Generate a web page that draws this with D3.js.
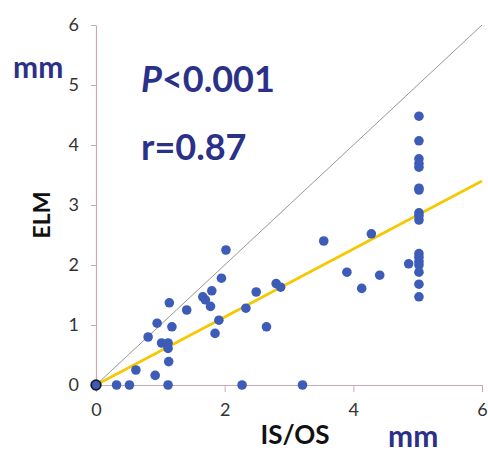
<!DOCTYPE html>
<html>
<head>
<meta charset="utf-8">
<script src="https://cdn.jsdelivr.net/npm/d3@7"></script>
<style>
  html, body { margin: 0; padding: 0; background: #fff; }
  svg { display: block; }
</style>
</head>
<body>
<svg id="chart" width="488" height="452"></svg>
<script>
// ---- data ----
const xTicks = [0, 2, 4, 6];
const yTicks = [0, 1, 2, 3, 4, 5, 6];
const originPoint = [[0, 0]];
const isosValues = [
  0.32, 0.52, 1.12, 2.27, 3.21,
  0.62, 0.92, 0.81, 0.95, 1.02, 1.12, 1.12, 1.13, 1.14, 1.18, 1.41, 1.66, 1.70,
  1.78, 1.80, 1.85, 1.91, 1.95, 2.02, 2.33, 2.49, 2.65, 2.80, 2.87, 3.54, 3.90,
  4.13, 4.28, 4.41, 4.86,
  5.02, 5.02, 5.02, 5.02, 5.02, 5.02, 5.02, 5.02, 5.02, 5.02, 5.02, 5.02, 5.02,
  5.02, 5.02, 5.02, 5.02
];
const elmValues = [
  0, 0, 0, 0, 0,
  0.25, 0.16, 0.80, 1.03, 0.70, 0.70, 0.61, 0.39, 1.37, 0.97, 1.25, 1.47, 1.42,
  1.31, 1.57, 0.86, 1.08, 1.78, 2.25, 1.28, 1.55, 0.97, 1.69, 1.63, 2.40, 1.88,
  1.61, 2.52, 1.83, 2.02,
  4.48, 4.07, 3.77, 3.69, 3.63, 3.28, 3.25, 2.87, 2.82, 2.75, 2.19, 2.13, 2.06,
  2.00, 1.88, 1.68, 1.47
];
const identityLine = [[0, 0], [6, 6]];
const fitLine = [[0, 0], [6, 3.4]];
const statP = "<0.001";
const statR = "r=0.87";

// ---- chart ----
const svg = d3.select("#chart");
const x = d3.scaleLinear().domain([0, 6]).range([96, 482]);
const y = d3.scaleLinear().domain([0, 6]).range([385, 25]);
const axisColor = "#c9a9b9";
const font = "Lato, 'Open Sans', sans-serif";

// axes
const gx = svg.append("g").attr("transform", `translate(0,${y(0)})`)
  .call(d3.axisBottom(x).tickValues(xTicks).tickSize(7).tickSizeOuter(0).tickFormat(d3.format("d")));
const gy = svg.append("g").attr("transform", `translate(${x(0)},0)`)
  .call(d3.axisLeft(y).tickValues(yTicks).tickSize(5).tickSizeOuter(0).tickFormat(d3.format("d")));
[gx, gy].forEach(g => {
  g.select(".domain").attr("stroke", axisColor).attr("stroke-width", 1.2);
  g.selectAll(".tick line").attr("stroke", axisColor);
  g.selectAll(".tick text").attr("fill", "#333").style("font-family", font).style("font-size", "18px");
});
gx.selectAll(".tick text").attr("dy", "0.71em").attr("y", 18);
gy.selectAll(".tick text").attr("x", -17);

// lines
const line = d3.line().x(d => x(d[0])).y(d => y(d[1]));
svg.append("path").datum(identityLine).attr("d", line)
  .attr("fill", "none").attr("stroke", "#8a8a8a").attr("stroke-width", 0.9);
svg.append("path").datum(fitLine).attr("d", line)
  .attr("fill", "none").attr("stroke", "#f6c800").attr("stroke-width", 2.6);

// points
const pts = isosValues.map((v, i) => [v, elmValues[i]]);
svg.append("g").selectAll("circle").data(pts).join("circle")
  .attr("cx", d => x(d[0])).attr("cy", d => y(d[1])).attr("r", 4.8)
  .attr("fill", "#3c5cb8");
svg.append("g").selectAll("circle").data(originPoint).join("circle")
  .attr("cx", d => x(d[0])).attr("cy", d => y(d[1])).attr("r", 4.8)
  .attr("fill", "#3c5cb8").attr("stroke", "#1a1a2a").attr("stroke-width", 1.8);

// annotations
const navy = "#2b3188";
const pText = svg.append("text").attr("x", 141).attr("y", 92)
  .attr("fill", navy).style("font-family", font).style("font-weight", "bold").style("font-size", "36px");
pText.append("tspan").style("font-style", "italic").text("P");
pText.append("tspan").text(statP);
svg.append("text").attr("x", 141).attr("y", 160).text(statR)
  .attr("fill", navy).style("font-family", font).style("font-weight", "bold").style("font-size", "36px");

svg.append("text").attr("x", 13).attr("y", 78).text("mm")
  .attr("fill", navy).style("font-family", font).style("font-weight", "bold").style("font-size", "30px");
svg.append("text").attr("x", 388).attr("y", 447).text("mm")
  .attr("fill", navy).style("font-family", font).style("font-weight", "bold").style("font-size", "30px");

svg.append("text").attr("x", 295).attr("y", 444).attr("text-anchor", "middle").text("IS/OS")
  .attr("fill", "#111").style("font-family", font).style("font-weight", "bold").style("font-size", "26px");
svg.append("text").attr("transform", "translate(50,215) rotate(-90)").attr("text-anchor", "middle").text("ELM")
  .attr("fill", "#111").style("font-family", font).style("font-weight", "bold").style("font-size", "23px");
</script>
</body>
</html>
